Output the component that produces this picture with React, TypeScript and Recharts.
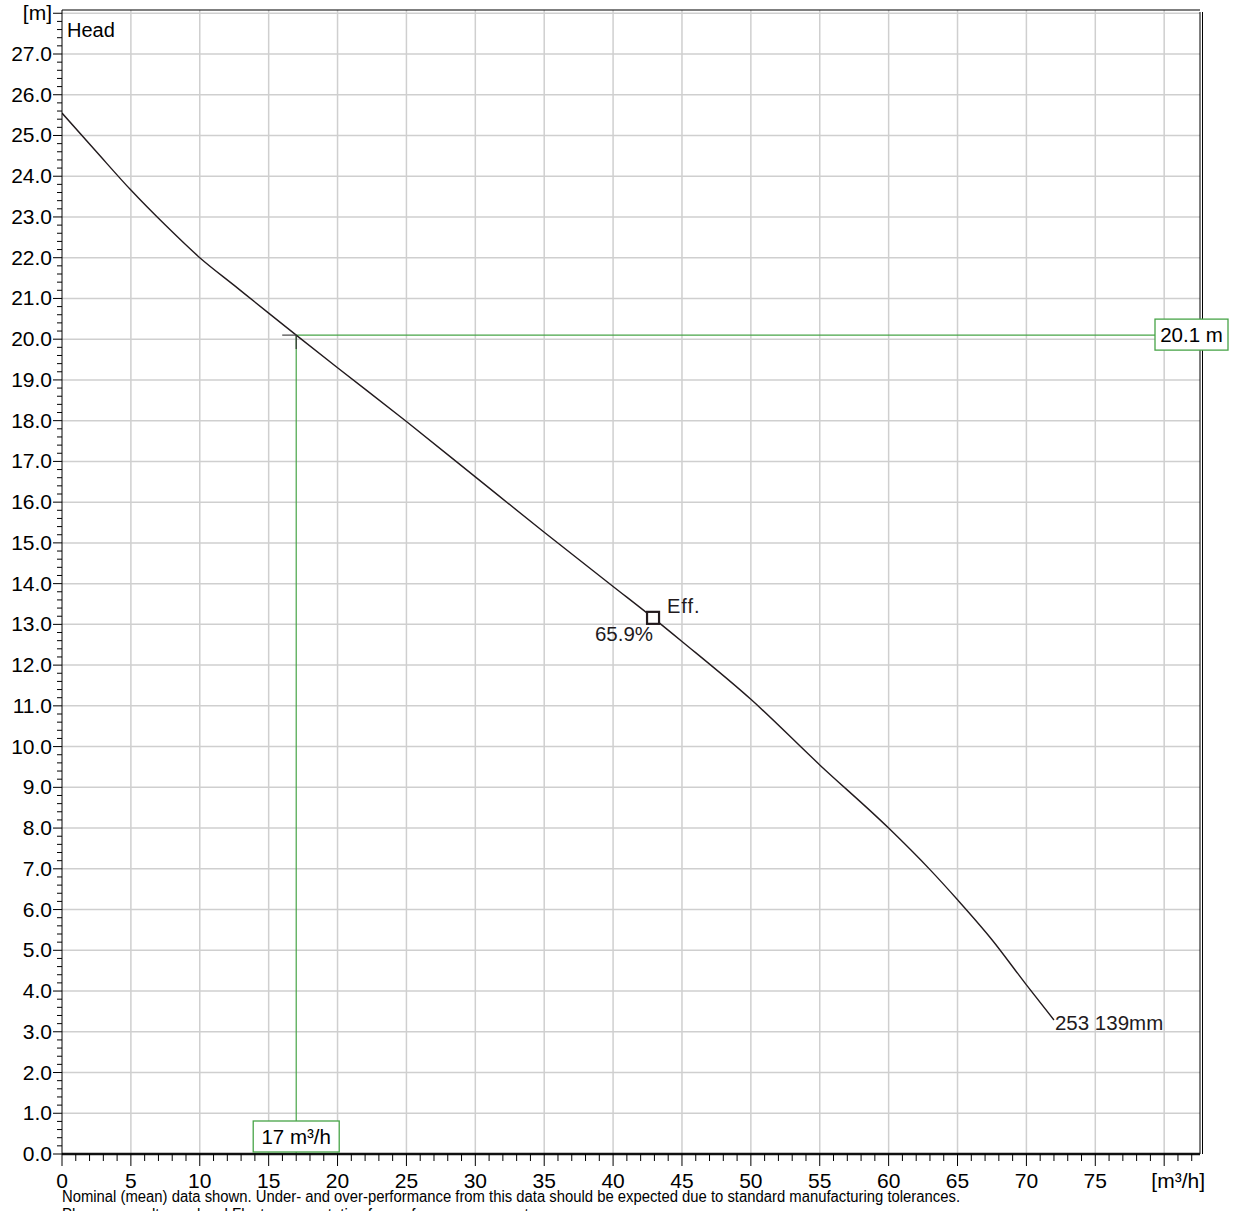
import React from 'react';
import { LineChart, Line, XAxis, YAxis, ReferenceLine, ReferenceDot } from 'recharts';

// pump curve
const flow = [0, 2.5, 5, 7.5, 10, 12.5, 15, 17, 20, 25, 30, 35, 40, 42.9, 45, 50, 55, 60, 63, 65, 67.5, 70, 72];
const head = [25.55, 24.6, 23.66, 22.8, 22.0, 21.32, 20.64, 20.1, 19.3, 17.98, 16.62, 15.26, 13.93, 13.16, 12.58, 11.16, 9.55, 8.0, 6.98, 6.24, 5.26, 4.15, 3.29];

const xMajorTicks = [0, 5, 10, 15, 20, 25, 30, 35, 40, 45, 50, 55, 60, 65, 70, 75, 80];
const yMajorTicks = [0, 1, 2, 3, 4, 5, 6, 7, 8, 9, 10, 11, 12, 13, 14, 15, 16, 17, 18, 19, 20, 21, 22, 23, 24, 25, 26, 27, 28];
const xMax = 82.6;
const yMax = 28.08;

const dutyFlow = 17;
const dutyHead = 20.1;
const effFlow = 42.9;
const effHead = 13.16;
const effLabel = '65.9%';
const curveLabel = '253 139mm';

const footNote = 'Nominal (mean) data shown. Under- and over-performance from this data should be expected due to standard manufacturing tolerances.';
const footNote2 = 'Please consult your local Flygt representative for performance guarantees.';

const data = flow.map((q, i) => ({ q, h: head[i] }));

// minor ticks: 1 per unit on x, 0.2 on y
const xTicks: number[] = [];
for (let v = 0; v <= 82; v++) xTicks.push(v);
const yTicks: number[] = [];
for (let i = 0; i <= 140; i++) yTicks.push(Math.round(i * 2) / 10);

const font = '"Liberation Sans", Arial, Helvetica, sans-serif';
const ink = '#221a1d';
const green = '#47a447';
const gridColor = '#cfcfcf';

const XTick = (props: any) => {
  const { x, y, payload } = props;
  const v = payload.value;
  const major = v % 5 === 0;
  return (
    <g>
      <line x1={x} x2={x} y1={y} y2={y + (major ? 12 : 7)} stroke="#000" strokeWidth={1} />
      {major && v <= 75 && (
        <text x={x} y={y + 34} textAnchor="middle" fontSize={21} fontFamily={font} fill="#000">
          {v}
        </text>
      )}
      {v === 80 && (
        <text x={x + 14} y={y + 34} textAnchor="middle" fontSize={21} fontFamily={font} fill="#000">
          [m³/h]
        </text>
      )}
    </g>
  );
};

const YTick = (props: any) => {
  const { x, y, payload } = props;
  const v = payload.value;
  const major = Math.abs(v - Math.round(v)) < 1e-6;
  return (
    <g>
      <line x1={x - (major ? 9 : 5)} x2={x} y1={y} y2={y} stroke="#000" strokeWidth={1} />
      {major && (
        <text x={x - 10} y={y + 7} textAnchor="end" fontSize={21} fontFamily={font} fill="#000">
          {v === 28 ? '[m]' : v.toFixed(1)}
        </text>
      )}
    </g>
  );
};

const RightBorder = (p: any) => (
  <g>
    <line x1={p.x1} x2={p.x2} y1={p.y1} y2={p.y2 + 2} stroke="#000" strokeWidth={1} />
    <line x1={p.x1 + 2.5} x2={p.x2 + 2.5} y1={p.y1} y2={p.y2 + 2} stroke="#000" strokeWidth={1} />
  </g>
);

export default function App() {
  return (
    <div style={{ position: 'absolute', left: 0, top: 0, width: 1237, height: 1211, background: '#fff', overflow: 'hidden' }}>
      <LineChart width={1237} height={1211} data={data} margin={{ top: 10, right: 37, bottom: 0, left: 0 }}>
        <XAxis
          dataKey="q"
          type="number"
          domain={[0, xMax]}
          allowDataOverflow
          ticks={xTicks}
          interval={0}
          tick={<XTick />}
          tickLine={false}
          tickSize={0}
          tickMargin={0}
          height={57}
          axisLine={{ stroke: '#111', strokeWidth: 2.5 }}
        />
        <YAxis
          type="number"
          domain={[0, yMax]}
          allowDataOverflow
          ticks={yTicks}
          interval={0}
          tick={<YTick />}
          tickLine={false}
          tickSize={0}
          tickMargin={0}
          width={62}
          axisLine={{ stroke: '#000', strokeWidth: 1 }}
        />
        {xMajorTicks.slice(1).map((v) => (
          <ReferenceLine key={'gx' + v} x={v} stroke={gridColor} strokeWidth={1.5} />
        ))}
        {yMajorTicks.slice(1).map((v) => (
          <ReferenceLine key={'gy' + v} y={v} stroke={gridColor} strokeWidth={1.5} />
        ))}
        <ReferenceLine y={yMax} stroke="#000" strokeWidth={1.2} />
        <ReferenceLine x={xMax} shape={<RightBorder />} />

        <ReferenceLine
          segment={[{ x: dutyFlow, y: dutyHead }, { x: xMax, y: dutyHead }]}
          stroke={green}
          strokeWidth={1.2}
        />
        <ReferenceLine
          segment={[{ x: dutyFlow, y: dutyHead }, { x: dutyFlow, y: 0 }]}
          stroke={green}
          strokeWidth={1.2}
        />

        <Line
          dataKey="h"
          type="monotone"
          stroke={ink}
          strokeWidth={1.4}
          dot={false}
          isAnimationActive={false}
        />

        <ReferenceDot
          x={dutyFlow}
          y={dutyHead}
          r={0}
          shape={(p: any) => (
            <g>
              <line x1={p.cx - 14} x2={p.cx} y1={p.cy} y2={p.cy} stroke="#444" strokeWidth={1.2} />
              <line x1={p.cx} x2={p.cx} y1={p.cy} y2={p.cy + 14} stroke="#333" strokeWidth={1.2} />
            </g>
          )}
        />
        <ReferenceDot
          x={xMax}
          y={dutyHead}
          r={0}
          ifOverflow="visible"
          shape={(p: any) => (
            <g>
              <rect x={p.cx - 45} y={p.cy - 16} width={73} height={31} fill="#fff" stroke={green} strokeWidth={1.3} />
              <text x={p.cx - 8.5} y={p.cy + 7} textAnchor="middle" fontSize={20.5} fontFamily={font} fill="#000">
                {dutyHead} m
              </text>
            </g>
          )}
        />
        <ReferenceDot
          x={dutyFlow}
          y={0}
          r={0}
          ifOverflow="visible"
          shape={(p: any) => (
            <g>
              <rect x={p.cx - 43} y={p.cy - 33} width={86} height={31} fill="#fff" stroke={green} strokeWidth={1.3} />
              <text x={p.cx} y={p.cy - 10} textAnchor="middle" fontSize={20.5} fontFamily={font} fill="#000">
                {dutyFlow} m³/h
              </text>
            </g>
          )}
        />
        <ReferenceDot
          x={effFlow}
          y={effHead}
          r={0}
          shape={(p: any) => (
            <g>
              <rect x={p.cx - 6} y={p.cy - 6} width={12} height={12} fill="#fff" stroke={ink} strokeWidth={2.2} />
              <text x={p.cx + 14} y={p.cy - 5} fontSize={20} fontFamily={font} fill={ink} letterSpacing={1}>
                Eff.
              </text>
              <text x={p.cx} y={p.cy + 23} textAnchor="end" fontSize={20.5} fontFamily={font} fill={ink}>
                {effLabel}
              </text>
            </g>
          )}
        />
        <ReferenceDot
          x={flow[flow.length - 1]}
          y={head[head.length - 1]}
          r={0}
          shape={(p: any) => (
            <text x={p.cx + 1} y={p.cy + 10} fontSize={20.5} fontFamily={font} fill={ink}>
              {curveLabel}
            </text>
          )}
        />
        <ReferenceDot
          x={0}
          y={yMax}
          r={0}
          shape={(p: any) => (
            <text x={p.cx + 5} y={p.cy + 27} fontSize={20} fontFamily={font} fill="#000">
              Head
            </text>
          )}
        />
      </LineChart>
      <svg width={1237} height={1211} style={{ position: 'absolute', left: 0, top: 0, pointerEvents: 'none' }}>
        <text x={62} y={1202} fontSize={16} fontFamily={font} fill="#000" textLength={898} lengthAdjust="spacingAndGlyphs">
          {footNote}
        </text>
        <text x={62} y={1220} fontSize={16} fontFamily={font} fill="#000" textLength={495} lengthAdjust="spacingAndGlyphs">
          {footNote2}
        </text>
      </svg>
    </div>
  );
}
